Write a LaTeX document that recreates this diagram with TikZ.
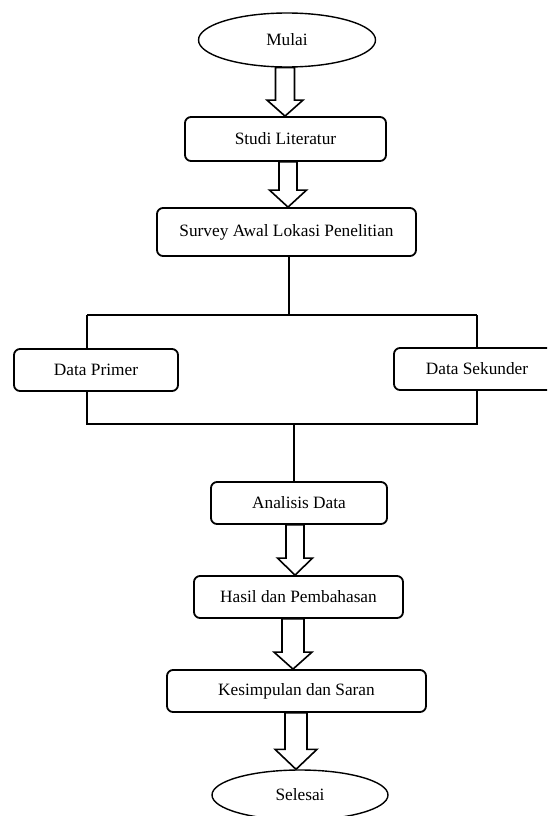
\documentclass[tikz,border=0pt]{standalone}
\usepackage{fontspec}
\setmainfont{Liberation Serif}
\usetikzlibrary{shapes.geometric,calc}
\begin{document}
\begin{tikzpicture}[x=1pt,y=-1pt,
  every node/.style={font=\fontsize{17.3}{20}\selectfont, inner sep=0pt},
  box/.style={draw, line width=1.8pt, rounded corners=6pt, rectangle},
  oval/.style={draw, line width=1.4pt, ellipse},
  conn/.style={line width=1.8pt},
  blk/.style={draw, line width=1.6pt, fill=white, line join=miter}
]
\useasboundingbox (0,0) rectangle (547,816);
\begin{scope}
\clip (0,0) rectangle (547,816);
\node[oval, minimum width=177pt, minimum height=54pt] (mulai) at (287,40) {\raisebox{-2pt}{Mulai}};
\node[box, minimum width=201pt, minimum height=44pt] (studi) at (285.5,139) {Studi Literatur};
\node[box, minimum width=259pt, minimum height=48pt] (survey) at (286.5,232) {Survey Awal Lokasi Penelitian};
\node[box, minimum width=164pt, minimum height=42pt] (primer) at (96,370) {Data Primer};
\node[box, minimum width=166pt, minimum height=42pt] (sekunder) at (477,369) {Data Sekunder};
\node[box, minimum width=176pt, minimum height=42pt] (analisis) at (299,503) {Analisis Data};
\node[box, minimum width=209pt, minimum height=42pt] (hasil) at (298.5,597) {Hasil dan Pembahasan};
\node[box, minimum width=259pt, minimum height=42pt] (kesimpulan) at (296.5,691) {Kesimpulan dan Saran};
\node[oval, minimum width=176pt, minimum height=50pt] (selesai) at (300,795) {Selesai};

% block arrows
\foreach \a/\b/\xc/\sw/\hw/\hl in {mulai/studi/285/9.5/18/16, studi/survey/288/9/18.5/17, analisis/hasil/295/9/17.5/17, hasil/kesimpulan/293/11/19/17, kesimpulan/selesai/296/11/21/20}{
  \draw[blk] let \p1=(\a.south), \p2=(\b.north) in
    (\xc-\sw,\y1) -- (\xc+\sw,\y1) -- (\xc+\sw,\y2+\hl) -- (\xc+\hw,\y2+\hl) -- (\xc,\y2)
    -- (\xc-\hw,\y2+\hl) -- (\xc-\sw,\y2+\hl) -- cycle;
}

% branching connectors
\coordinate (jt) at (289,315);
\coordinate (jl) at (87,315);
\coordinate (jr) at (477,315);
\coordinate (bl) at (87,424);
\coordinate (br) at (477,424);
\coordinate (jb) at (294,424);
\draw[conn] (survey.south -| jt) -- (jt);
\draw[conn] (jl) -- (jr);
\draw[conn] (jl) -- (jl |- primer.north);
\draw[conn] (jr) -- (jr |- sekunder.north);
\draw[conn] (primer.south -| bl) -- (bl) -- (br) -- (sekunder.south -| br);
\draw[conn] (jb) -- (jb |- analisis.north);
\end{scope}
\end{tikzpicture}
\end{document}
